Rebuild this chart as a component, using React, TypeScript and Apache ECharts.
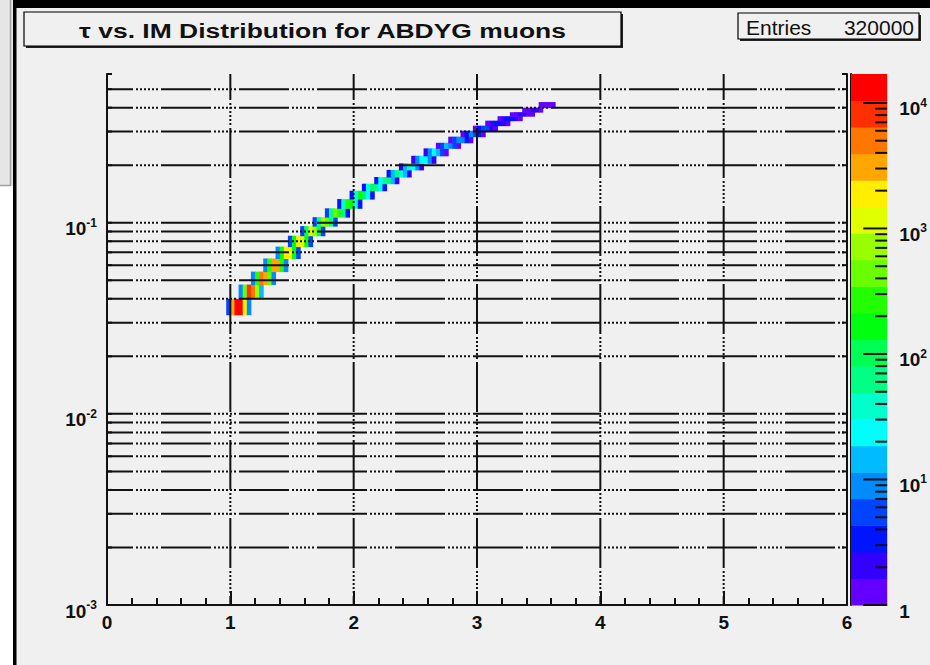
import React, { useEffect, useRef } from "react";
import * as echarts from "echarts";

const TITLE = "τ vs. IM Distribution for ABDYG muons";
const ENTRIES_LABEL = "Entries";
const ENTRIES_VALUE = "320000";

const X_MIN = 0;
const X_MAX = 6;
const Y_MIN = 0.001;
const Y_MAX = 0.6;
const Z_MAX = 17000;
const N_CONTOURS = 20;
const X_BIN_WIDTH = 1 / 30;

const xGridValues = [1, 2, 3, 4, 5];
const yGridValues = [
  0.002, 0.003, 0.004, 0.005, 0.006, 0.007, 0.008, 0.009, 0.01,
  0.02, 0.03, 0.04, 0.05, 0.06, 0.07, 0.08, 0.09, 0.1,
  0.2, 0.3, 0.4, 0.5,
];
const yTickValues = [
  0.002, 0.003, 0.004, 0.005, 0.006, 0.007, 0.008, 0.009, 0.01,
  0.02, 0.03, 0.04, 0.05, 0.06, 0.07, 0.08, 0.09, 0.1,
  0.2, 0.3, 0.4, 0.5, 0.6,
];
const zMajorTicks = [1, 10, 100, 1000, 10000];
const zMinorTicks = [
  2, 3, 4, 5, 6, 7, 8, 9,
  20, 30, 40, 50, 60, 70, 80, 90,
  200, 300, 400, 500, 600, 700, 800, 900,
  2000, 3000, 4000, 5000, 6000, 7000, 8000, 9000,
];

// each row of the band: first x-bin low edge, y edges, counts per x-bin
const rowXStart = [
  0.9667, 1.0667, 1.1667, 1.2667, 1.3667, 1.4667, 1.5667, 1.6667, 1.7667, 1.8667,
  1.9667, 2.0667, 2.1667, 2.2667, 2.3667, 2.4667, 2.5667, 2.6667, 2.7667, 2.8667,
  2.9667, 3.0667, 3.1667, 3.2667, 3.3667, 3.4667,
];
const rowYEdges = [
  0.033, 0.04, 0.0475, 0.0555, 0.065, 0.075, 0.0855, 0.096, 0.107, 0.119,
  0.133, 0.147, 0.16, 0.1735, 0.189, 0.2045, 0.224, 0.245, 0.262, 0.282,
  0.303, 0.322, 0.342, 0.361, 0.379, 0.4, 0.428,
];
const rowCounts = [
  [6, 3000, 15000, 12000, 1500, 10],
  [10, 400, 8000, 5000, 600, 12],
  [10, 300, 5000, 3500, 400, 10],
  [8, 250, 3500, 2500, 300, 8],
  [8, 200, 2200, 1600, 200, 7],
  [7, 150, 1500, 1100, 150, 6],
  [6, 110, 1000, 750, 100, 5],
  [5, 80, 600, 450, 70, 5],
  [5, 60, 380, 280, 50, 4],
  [4, 45, 250, 180, 40, 4],
  [4, 35, 170, 120, 30, 3],
  [3, 25, 110, 80, 20, 3],
  [3, 20, 75, 55, 15, 2],
  [3, 15, 50, 38, 12, 2],
  [2, 12, 35, 27, 10, 2],
  [2, 10, 26, 20, 8, 2],
  [2, 8, 20, 15, 6, 1],
  [1, 6, 15, 11, 5, 1],
  [1, 5, 11, 8, 4, 1],
  [1, 4, 8, 6, 3, 1],
  [1, 3, 6, 5, 2, 1],
  [1, 2, 4, 3, 2, 1],
  [1, 2, 3, 3, 2, 1],
  [1, 1, 2, 2, 1, 1],
  [1, 1, 2, 2, 1, 0],
  [0, 1, 1, 1, 1, 0],
];

const palette = [
  "#6300ff", "#3300ff", "#0014ff", "#0044ff", "#008bff",
  "#00bbff", "#00fffb", "#00ffcc", "#00ff85", "#00ff55",
  "#00ff0e", "#22ff00", "#69ff00", "#99ff00", "#e0ff00",
  "#ffee00", "#ffa700", "#ff7700", "#ff3000", "#ff0000",
];

const FONT = '"Liberation Sans", Arial, Helvetica, sans-serif';
const INK = "#111";
const BG = "#f0f0f0";
const DASH = [50, 3, 2, 2, 2, 2, 2, 2, 2, 2, 2, 2, 2, 3];

function colorOf(c: number): string {
  let k = Math.floor((Math.log10(c) / Math.log10(Z_MAX)) * N_CONTOURS);
  if (k < 0) k = 0;
  if (k > N_CONTOURS - 1) k = N_CONTOURS - 1;
  return palette[k];
}

function powLabel(v: number): string {
  const e = Math.round(Math.log10(v));
  if (e === 0) return "{b|1}";
  return "{b|10}{s|" + e + "}";
}

const richLabel = {
  b: { fontFamily: FONT, fontWeight: "bold", fontSize: 19, color: INK, lineHeight: 19, padding: [5, 0, 0, 0] },
  s: { fontFamily: FONT, fontWeight: "bold", fontSize: 12, color: INK, lineHeight: 12, verticalAlign: "top" },
};

export default function App() {
  const ref = useRef<HTMLDivElement>(null);

  useEffect(() => {
    document.body.style.margin = "0";
    if (!ref.current) return;
    const chart = echarts.init(ref.current, undefined, { renderer: "svg" });

    const cells: number[][] = [];
    rowCounts.forEach((counts, r) => {
      counts.forEach((c, i) => {
        if (c > 0) {
          cells.push([
            rowXStart[r] + i * X_BIN_WIDTH,
            rowXStart[r] + (i + 1) * X_BIN_WIDTH,
            rowYEdges[r],
            rowYEdges[r + 1],
            c,
          ]);
        }
      });
    });

    const zLevels: number[] = [];
    for (let k = 0; k <= N_CONTOURS; k++) zLevels.push(Math.pow(Z_MAX, k / N_CONTOURS));
    const bands = palette.map((_, i) => [0, zLevels[i], zLevels[i + 1], i]);

    const gridLineStyle = { stroke: INK, lineWidth: 2, lineDash: DASH, lineDashOffset: 24 };

    const option: any = {
      animation: false,
      backgroundColor: BG,
      grid: [
        { left: 107, top: 74, width: 740, height: 531 },
        { left: 851, top: 74, width: 42, height: 531 },
      ],
      xAxis: [
        {
          type: "value", gridIndex: 0, min: X_MIN, max: X_MAX, interval: 1,
          axisLine: { show: true, onZero: false, lineStyle: { color: INK, width: 2 } },
          axisTick: { show: true, inside: true, length: 14, lineStyle: { color: INK, width: 2 } },
          minorTick: { show: true, splitNumber: 5, length: 7, lineStyle: { color: INK, width: 2 } },
          splitLine: { show: false },
          axisLabel: { margin: 8, color: INK, fontFamily: FONT, fontWeight: "bold", fontSize: 19 },
        },
        { type: "value", gridIndex: 1, min: 0, max: 1, show: false },
      ],
      yAxis: [
        {
          type: "log", logBase: 10, gridIndex: 0, min: Y_MIN, max: Y_MAX, position: "left",
          axisLine: { show: true, lineStyle: { color: INK, width: 2 } },
          axisTick: { show: false },
          splitLine: { show: false },
          axisLabel: { showMaxLabel: false, margin: 10, padding: [7, 0, 0, 0], formatter: powLabel, rich: richLabel },
        },
        {
          type: "log", logBase: 10, gridIndex: 0, min: Y_MIN, max: Y_MAX, position: "right",
          axisLine: { show: true, lineStyle: { color: INK, width: 2 } },
          axisTick: { show: false }, axisLabel: { show: false }, splitLine: { show: false },
        },
        {
          type: "log", logBase: 10, gridIndex: 1, min: 1, max: Z_MAX, position: "right",
          axisLine: { show: true, lineStyle: { color: INK, width: 2 } },
          axisTick: { show: false }, splitLine: { show: false },
          axisLabel: { showMaxLabel: false, margin: 12, padding: [7, 0, 0, 0], formatter: powLabel, rich: richLabel },
        },
      ],
      series: [
        {
          type: "custom", name: "cells", xAxisIndex: 0, yAxisIndex: 0, z: 2, silent: true,
          data: cells,
          encode: { x: [0, 1], y: [2, 3] },
          renderItem: (params: any, api: any) => {
            const p0 = api.coord([api.value(0), api.value(2)]);
            const p1 = api.coord([api.value(1), api.value(3)]);
            return {
              type: "rect",
              shape: { x: p0[0], y: p1[1], width: p1[0] - p0[0] + 0.5, height: p0[1] - p1[1] + 0.5 },
              style: { fill: colorOf(api.value(4)) },
            };
          },
        },
        {
          type: "custom", name: "hgrid", xAxisIndex: 0, yAxisIndex: 0, z: 5, silent: true,
          data: yGridValues.map((v) => [X_MIN, v]),
          encode: { x: 0, y: 1 },
          renderItem: (params: any, api: any) => {
            const v = api.value(1);
            const a = api.coord([X_MIN, v]);
            const b = api.coord([X_MAX, v]);
            return { type: "line", shape: { x1: a[0], y1: a[1], x2: b[0], y2: b[1] }, style: gridLineStyle };
          },
        },
        {
          type: "custom", name: "vgrid", xAxisIndex: 0, yAxisIndex: 0, z: 5, silent: true,
          data: xGridValues.map((v) => [v, Y_MIN]),
          encode: { x: 0, y: 1 },
          renderItem: (params: any, api: any) => {
            const v = api.value(0);
            const a = api.coord([v, Y_MAX]);
            const b = api.coord([v, Y_MIN]);
            return { type: "line", shape: { x1: a[0], y1: a[1], x2: b[0], y2: b[1] }, style: gridLineStyle };
          },
        },
        {
          type: "custom", name: "yticks", xAxisIndex: 0, yAxisIndex: 0, z: 5, silent: true,
          data: yTickValues.map((v) => [X_MIN, v]),
          encode: { x: 0, y: 1 },
          renderItem: (params: any, api: any) => {
            const v = api.value(1);
            const a = api.coord([X_MIN, v]);
            const b = api.coord([X_MAX, v]);
            return {
              type: "group",
              children: [
                { type: "line", shape: { x1: a[0], y1: a[1], x2: a[0] + 5, y2: a[1] }, style: { stroke: INK, lineWidth: 2 } },
                { type: "line", shape: { x1: b[0], y1: b[1], x2: b[0] - 5, y2: b[1] }, style: { stroke: INK, lineWidth: 2 } },
              ],
            };
          },
        },
        {
          type: "custom", name: "palette", xAxisIndex: 1, yAxisIndex: 2, z: 2, silent: true,
          data: bands,
          encode: { x: 0, y: [1, 2] },
          renderItem: (params: any, api: any) => {
            const p0 = api.coord([0, api.value(1)]);
            const p1 = api.coord([1, api.value(2)]);
            return {
              type: "rect",
              shape: { x: p0[0], y: p1[1], width: p1[0] - p0[0], height: p0[1] - p1[1] + 0.5 },
              style: { fill: palette[api.value(3)] },
            };
          },
        },
        {
          type: "custom", name: "zMajor", xAxisIndex: 1, yAxisIndex: 2, z: 5, silent: true,
          data: zMajorTicks.map((v) => [1, v]),
          encode: { x: 0, y: 1 },
          renderItem: (params: any, api: any) => {
            const p = api.coord([1, api.value(1)]);
            return { type: "line", shape: { x1: p[0], y1: p[1], x2: p[0] - 24, y2: p[1] }, style: { stroke: INK, lineWidth: 2 } };
          },
        },
        {
          type: "custom", name: "zMinor", xAxisIndex: 1, yAxisIndex: 2, z: 5, silent: true,
          data: zMinorTicks.map((v) => [1, v]),
          encode: { x: 0, y: 1 },
          renderItem: (params: any, api: any) => {
            const p = api.coord([1, api.value(1)]);
            return { type: "line", shape: { x1: p[0], y1: p[1], x2: p[0] - 12, y2: p[1] }, style: { stroke: INK, lineWidth: 2 } };
          },
        },
      ],
      graphic: [
        { type: "rect", z: 10, shape: { x: 0, y: 0, width: 13, height: 186 }, style: { fill: "#e6e6e6" } },
        { type: "rect", z: 10, shape: { x: 0, y: 186, width: 13, height: 479 }, style: { fill: "#ffffff" } },
        { type: "line", z: 11, shape: { x1: 10.5, y1: 0, x2: 10.5, y2: 186 }, style: { stroke: "#a0a0a0", lineWidth: 1.5 } },
        { type: "line", z: 11, shape: { x1: 0, y1: 185.5, x2: 11, y2: 185.5 }, style: { stroke: "#a0a0a0", lineWidth: 1.5 } },
        { type: "rect", z: 12, shape: { x: 13, y: 0, width: 3.5, height: 665 }, style: { fill: "#000" } },
        { type: "rect", z: 12, shape: { x: 13, y: 0, width: 917, height: 8 }, style: { fill: "#000" } },
        { type: "rect", z: 10, shape: { x: 26, y: 14, width: 597, height: 34 }, style: { fill: "#222" } },
        { type: "rect", z: 11, shape: { x: 24, y: 12, width: 597, height: 34 }, style: { fill: BG, stroke: "#000", lineWidth: 1.2 } },
        {
          type: "text", z: 12, x: 322.5, y: 31, scaleX: 1.26,
          style: { text: TITLE, font: 'bold 21px ' + FONT, fill: INK, align: "center", verticalAlign: "middle", textAlign: "center", textVerticalAlign: "middle" },
        },
        { type: "rect", z: 10, shape: { x: 740, y: 15, width: 181, height: 26 }, style: { fill: "#222" } },
        { type: "rect", z: 11, shape: { x: 738, y: 13, width: 181, height: 26 }, style: { fill: BG, stroke: "#000", lineWidth: 1.2 } },
        {
          type: "text", z: 12, x: 746, y: 27,
          style: { text: ENTRIES_LABEL, font: '21px ' + FONT, fill: INK, align: "left", verticalAlign: "middle", textAlign: "left", textVerticalAlign: "middle" },
        },
        {
          type: "text", z: 12, x: 914, y: 27,
          style: { text: ENTRIES_VALUE, font: '21px ' + FONT, fill: INK, align: "right", verticalAlign: "middle", textAlign: "right", textVerticalAlign: "middle" },
        },
      ],
    };

    chart.setOption(option);
    return () => chart.dispose();
  }, []);

  return <div ref={ref} style={{ position: "fixed", left: 0, top: 0, width: 930, height: 665 }} />;
}
